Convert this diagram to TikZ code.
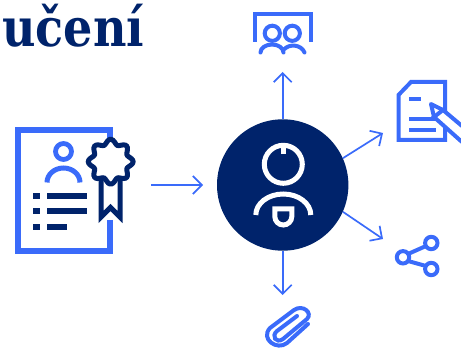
\documentclass[tikz,border=0pt]{standalone}
\usepackage{fontspec}
\setmainfont{DejaVu Serif}
\usetikzlibrary{arrows.meta}
\definecolor{navy}{HTML}{00236B}
\definecolor{bluea}{HTML}{3A6BFA}
\tikzset{
  conn/.style={draw=bluea,line width=1.7pt,-{Straight Barb[length=9pt,width=18pt,line width=1.7pt]}},
  ic/.style={draw=bluea,line width=4pt},
  icd/.style={draw=bluea,line width=5.5pt},
  nv/.style={draw=navy,line width=5.5pt},
  wh/.style={draw=white,line width=5pt}
}
\begin{document}
\begin{tikzpicture}[x=1pt,y=-1pt]
\useasboundingbox (0,0) rectangle (461,350);
\clip (0,0) rectangle (461,350);
% title
\node[anchor=base west,inner sep=0pt,text=navy,xscale=.87] (title) at (2,46.7) {\fontsize{53}{55}\selectfont\bfseries učení};
% certificate
\draw[icd] (110.2,220) -- (110.2,251.2) -- (17.8,251.2) -- (17.8,129.8) -- (110.2,129.8) -- (110.2,140);
\draw[ic,line width=4.8pt] (63.5,151.5) circle (8);
\draw[ic,line width=5pt] (47,182.5) arc[start angle=180,end angle=360,x radius=16.5,y radius=14.5];
\foreach \y in {196,211,226.7} \fill[navy] (33,\y-3) rectangle (40,\y+3);
\fill[navy] (47,193) rectangle (87,199);
\fill[navy] (47,208) rectangle (87,214);
\fill[navy] (47,223.7) rectangle (66.7,229.7);
\draw[nv,line width=5pt,fill=white,miter limit=10] (101,180) -- (101,217) -- (110.5,207.5) -- (120,217) -- (120,180);
\draw[nv,line width=5pt,fill=white] plot[smooth cycle,domain=0:356,samples=90,variable=\t] ({110.7+(20+2.4*cos(8*\t))*cos(\t)},{161.7+(20+2.4*cos(8*\t))*sin(\t)});
% hub
\node[circle,fill=navy,minimum size=131.4pt,inner sep=0pt] (hub) at (282.7,185) {};
\draw[wh] (283.3,164.3) circle (19);
\draw[wh] (283.3,144) -- (283.3,154);
\draw[wh] (255.8,215) arc[start angle=180,end angle=360,x radius=27.5,y radius=21];
\draw[wh] (274.8,209) -- (291.8,209) -- (291.8,216.5) arc[start angle=0,end angle=180,radius=8.5] -- cycle;
% free ends
\coordinate (top) at (282.7,72);
\coordinate (doc) at (383,133);
\coordinate (share) at (383,239);
\coordinate (clip) at (282.7,295);
\coordinate (cert) at (151,185);
\coordinate (hubin) at (203,185);
\draw[conn] (cert) -- (hubin);
\draw[conn] (hub.north) -- (top);
\draw[conn] (hub.24) -- (doc);
\draw[conn] (hub.-24) -- (share);
\draw[conn] (hub.south) -- (clip);
% presentation
\draw[ic] (255,41.7) -- (255,14.5) -- (310.5,14.5) -- (310.5,41.7);
\draw[ic] (272.3,33.3) circle (7.6);
\draw[ic] (292.3,33.3) circle (7.6);
\draw[ic,line cap=round] (260.5,52.5) arc[start angle=180,end angle=360,x radius=11.5,y radius=8];
\draw[ic,line cap=round] (284.5,49) .. controls (289,44) and (301,44) .. (304.5,52.5);
% document
\draw[ic] (445,113) -- (445,82) -- (411,82) -- (398.5,95) -- (398.5,140) -- (445,140) -- (445,128);
\draw[ic] (409,99) -- (421,99);
\draw[ic] (409,119) -- (436,119);
\draw[ic] (409,130) -- (436,130);
\draw[ic,fill=white,line join=round] (443,110) -- (431,104) -- (434,117);
\draw[ic] (462,126) -- (443,110) -- (434,117) -- (462,142);
% share
\draw[ic] (408,254) -- (426,246);
\draw[ic] (408,261) -- (426,266);
\draw[ic] (403,257.3) circle (6.2);
\draw[ic] (431.3,243) circle (6.2);
\draw[ic] (431.3,269) circle (6.2);
% paperclip
\draw[ic,line cap=round] (308,324) -- (287,343) .. controls (277,351) and (260,339) .. (270,328) -- (294,310) .. controls (303,304) and (313,313) .. (307,319) -- (283,339) .. controls (276,344) and (271,336) .. (277,331) -- (297,316);
\end{tikzpicture}
\end{document}
